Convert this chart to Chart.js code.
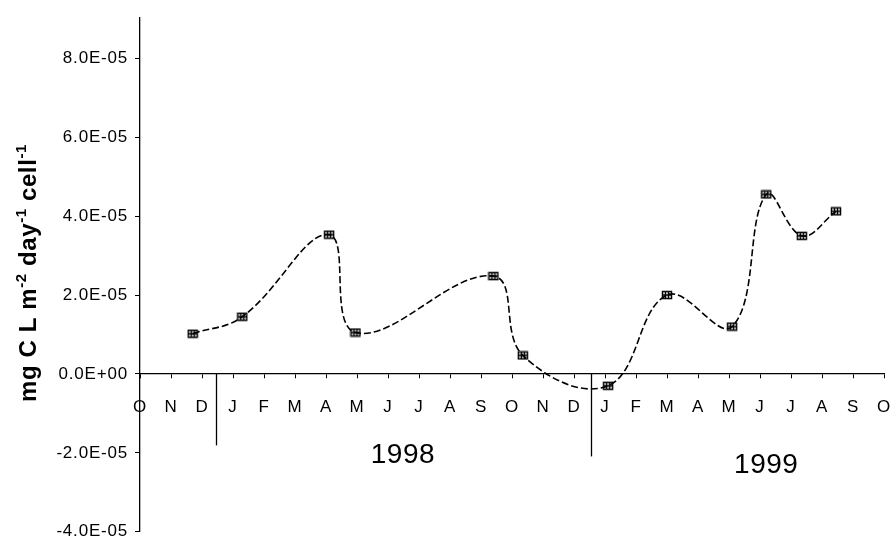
<!DOCTYPE html>
<html>
<head>
<meta charset="utf-8">
<script src="https://cdn.jsdelivr.net/npm/chart.js@4/dist/chart.umd.min.js"></script>
<style>
  html, body { margin: 0; padding: 0; background: #ffffff; overflow: hidden; }
  #chart_box { width: 892px; height: 549px; position: relative; }
</style>
</head>
<body>
<div id="chart_box"><canvas id="uptake_chart"></canvas></div>
<script>
// month letters, Oct 1997 .. Oct 1999 (index 0 = O)
const month_labels = ['O', 'N', 'D', 'J', 'F', 'M', 'A', 'M', 'J', 'J', 'A', 'S',
    'O', 'N', 'D', 'J', 'F', 'M', 'A', 'M', 'J', 'J', 'A', 'S', 'O'];

// sampling dates as month index, and the matching values
const sample_month = [1.7, 3.3, 6.1, 6.95, 11.4, 12.35, 15.1, 17.0, 19.1, 20.2, 21.35, 22.45];
const uptake_values = [1.02e-5, 1.45e-5, 3.53e-5, 1.05e-5, 2.48e-5, 0.47e-5, -0.3e-5,
    2.0e-5, 1.2e-5, 4.55e-5, 3.5e-5, 4.12e-5];

const y_tick_values = [-4e-5, -2e-5, 0, 2e-5, 4e-5, 6e-5, 8e-5];

const year_labels = ['1998', '1999'];
const year_centres = [8.48, 20.2];
const year_label_levels = [-2.06e-5, -2.31e-5];
const year_dividers = [2.45, 14.55];
const divider_depths = [-1.81e-5, -2.09e-5];

const chart_palette = {
    ink: '#000000',
    axis_font: '"Liberation Sans", Arial, sans-serif',
};

function sci_label(value) {
    if (value === 0) {
        return '0.0E+00';
    }
    const exp = Math.floor(Math.log10(Math.abs(value)));
    const mant = value / Math.pow(10, exp);
    const sign = exp < 0 ? '-' : '+';
    return mant.toFixed(1) + 'E' + sign + String(Math.abs(exp)).padStart(2, '0');
}

function make_marker() {
    const c = document.createElement('canvas');
    c.width = 12;
    c.height = 10;
    const g = c.getContext('2d');
    g.strokeStyle = chart_palette.ink;
    g.lineWidth = 1.5;
    g.strokeRect(1.5, 1.5, 9, 7);
    g.beginPath();
    g.moveTo(1.5, 5);
    g.lineTo(10.5, 5);
    g.moveTo(4.5, 1.5);
    g.lineTo(4.5, 8.5);
    g.moveTo(7.5, 1.5);
    g.lineTo(7.5, 8.5);
    g.stroke();
    return c;
}

// slightly wider lettering, like the scanned original
const spacing_plugin = {
    id: 'spacing_plugin',
    beforeDraw(chart) {
        chart.ctx.letterSpacing = '0.8px';
    },
};

// draws the rotated y title (with superscripts), year dividers and year labels
const decor_plugin = {
    id: 'decor_plugin',
    afterDraw(chart) {
        const ctx = chart.ctx;
        const xs = chart.scales.x;
        const ys = chart.scales.y;

        ctx.save();
        ctx.strokeStyle = chart_palette.ink;
        ctx.lineWidth = 1.3;
        year_dividers.forEach(function (m, idx) {
            const px = Math.round(xs.getPixelForValue(m)) + 0.5;
            ctx.beginPath();
            ctx.moveTo(px, ys.getPixelForValue(0));
            ctx.lineTo(px, ys.getPixelForValue(divider_depths[idx]));
            ctx.stroke();
        });

        ctx.fillStyle = chart_palette.ink;
        ctx.letterSpacing = '0.5px';
        ctx.font = '28px ' + chart_palette.axis_font;
        ctx.textAlign = 'center';
        ctx.textBaseline = 'middle';
        year_labels.forEach(function (label, idx) {
            ctx.fillText(label, xs.getPixelForValue(year_centres[idx]), ys.getPixelForValue(year_label_levels[idx]));
        });

        // y title
        const parts = [
            { text: 'mg C L m', sup: false },
            { text: '-2', sup: true },
            { text: ' day', sup: false },
            { text: '-1', sup: true },
            { text: ' cell', sup: false },
            { text: '-1', sup: true },
        ];
        const main_font = 'bold 24px ' + chart_palette.axis_font;
        const sup_font = 'bold 15px ' + chart_palette.axis_font;
        ctx.letterSpacing = '0.6px';
        let total = 0;
        parts.forEach(function (p) {
            ctx.font = p.sup ? sup_font : main_font;
            p.w = ctx.measureText(p.text).width;
            total += p.w;
        });
        ctx.translate(36, 273);
        ctx.rotate(-Math.PI / 2);
        ctx.textAlign = 'left';
        ctx.textBaseline = 'alphabetic';
        let cx = -total / 2;
        parts.forEach(function (p) {
            ctx.font = p.sup ? sup_font : main_font;
            ctx.fillText(p.text, cx, p.sup ? -10 : 0);
            cx += p.w;
        });
        ctx.restore();
    },
};

new Chart(document.getElementById('uptake_chart').getContext('2d'), {
    type: 'line',
    data: {
        datasets: [
            {
                data: sample_month.map(function (m, idx) {
                    return { x: m, y: uptake_values[idx] };
                }),
                borderColor: chart_palette.ink,
                borderWidth: 1.6,
                borderDash: [7, 3],
                tension: 0.4,
                fill: false,
                pointStyle: make_marker(),
                pointRadius: 5,
            },
        ],
    },
    options: {
        responsive: true,
        maintainAspectRatio: false,
        animation: false,
        layout: { padding: { left: 0, right: 8, top: 12, bottom: 10 } },
        plugins: {
            legend: { display: false },
            tooltip: { enabled: false },
        },
        scales: {
            x: {
                type: 'linear',
                position: { y: 0 },
                min: 0,
                max: 24,
                afterBuildTicks: function (scale) {
                    scale.ticks = month_labels.map(function (_, idx) {
                        return { value: idx };
                    });
                },
                afterFit: function (scale) {
                    scale.paddingLeft = 0;
                    scale.paddingRight = 0;
                },
                ticks: {
                    autoSkip: false,
                    maxRotation: 0,
                    color: chart_palette.ink,
                    padding: 19,
                    font: { family: chart_palette.axis_font, size: 17 },
                    callback: function (value) {
                        return month_labels[value];
                    },
                },
                grid: {
                    drawOnChartArea: false,
                    drawTicks: true,
                    tickLength: 4,
                    tickColor: chart_palette.ink,
                },
                border: { display: true, color: chart_palette.ink, width: 1.3 },
            },
            y: {
                type: 'linear',
                min: -4e-5,
                max: 9.04e-5,
                afterBuildTicks: function (scale) {
                    scale.ticks = y_tick_values.map(function (v) {
                        return { value: v };
                    });
                },
                afterFit: function (scale) {
                    scale.width = 140;
                },
                ticks: {
                    color: chart_palette.ink,
                    padding: 7,
                    font: { family: chart_palette.axis_font, size: 17 },
                    callback: function (value) {
                        return sci_label(value);
                    },
                },
                grid: {
                    drawOnChartArea: false,
                    drawTicks: true,
                    tickLength: 5,
                    tickColor: chart_palette.ink,
                },
                border: { display: true, color: chart_palette.ink, width: 1.3 },
            },
        },
    },
    plugins: [spacing_plugin, decor_plugin],
});
</script>
</body>
</html>
